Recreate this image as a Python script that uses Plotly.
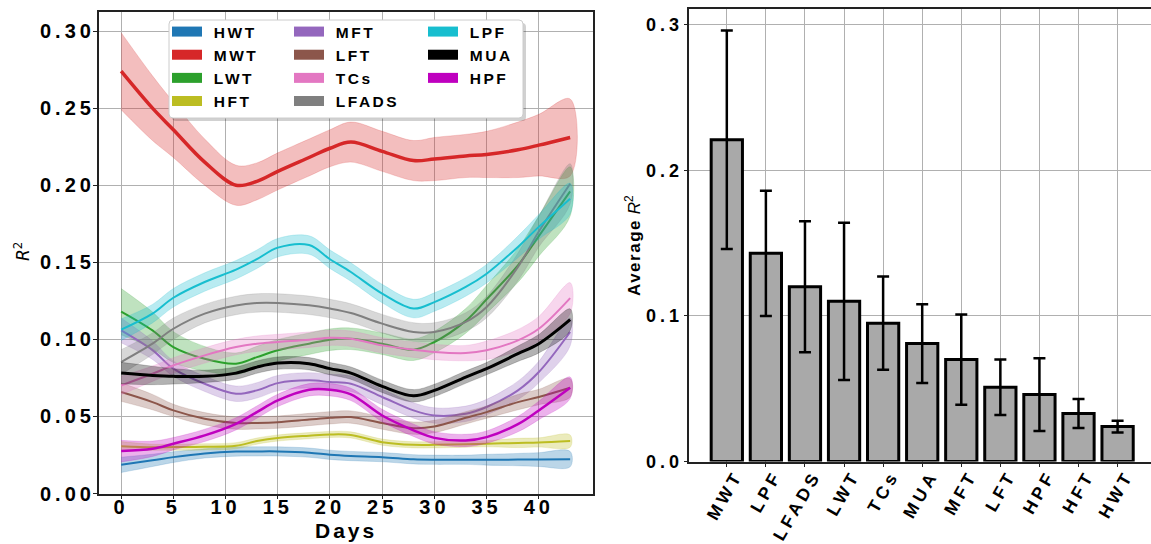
import plotly.graph_objects as go

# ---------------- data ----------------
days = [0, 3, 5, 8, 11, 13, 15, 18, 20, 22, 25, 28, 30, 33, 35, 38, 40, 43]

HWT = [0.0186, 0.0215, 0.0236, 0.026, 0.0272, 0.0273, 0.0273, 0.0265, 0.0251, 0.0243, 0.0236, 0.0222, 0.0219, 0.0219, 0.0219, 0.022, 0.022, 0.0223]
HWT_ci = [0.005, 0.004, 0.0035, 0.003, 0.003, 0.003, 0.003, 0.003, 0.003, 0.003, 0.003, 0.003, 0.003, 0.003, 0.0035, 0.004, 0.0045, 0.005]
MWT = [0.274, 0.250, 0.236, 0.215, 0.200, 0.2025, 0.209, 0.218, 0.224, 0.228, 0.222, 0.216, 0.217, 0.219, 0.220, 0.223, 0.226, 0.231]
MWT_ci = [0.025, 0.021, 0.018, 0.015, 0.013, 0.012, 0.012, 0.012, 0.012, 0.013, 0.013, 0.013, 0.014, 0.014, 0.015, 0.018, 0.020, 0.025]
LWT = [0.118, 0.1058, 0.095, 0.0874, 0.0842, 0.0885, 0.0929, 0.0972, 0.0998, 0.1004, 0.0972, 0.0933, 0.0983, 0.112, 0.126, 0.148, 0.167, 0.196]
LWT_ci = [0.015, 0.012, 0.010, 0.008, 0.007, 0.007, 0.007, 0.007, 0.007, 0.007, 0.007, 0.007, 0.007, 0.008, 0.009, 0.011, 0.013, 0.016]
HFT = [0.0307, 0.030, 0.0301, 0.0303, 0.031, 0.034, 0.036, 0.0375, 0.0383, 0.038, 0.0333, 0.0316, 0.0316, 0.032, 0.0323, 0.0328, 0.0331, 0.034]
HFT_ci = [0.003, 0.002, 0.002, 0.002, 0.002, 0.002, 0.002, 0.002, 0.002, 0.002, 0.002, 0.002, 0.002, 0.002, 0.002, 0.003, 0.003, 0.004]
MFT = [0.1058, 0.093, 0.081, 0.0712, 0.0647, 0.0669, 0.0716, 0.0734, 0.0723, 0.0712, 0.0626, 0.0539, 0.0506, 0.0517, 0.0561, 0.0669, 0.0788, 0.1048]
MFT_ci = [0.008, 0.006, 0.005, 0.005, 0.005, 0.005, 0.005, 0.005, 0.005, 0.005, 0.005, 0.005, 0.005, 0.005, 0.005, 0.006, 0.007, 0.009]
LFT = [0.0658, 0.0593, 0.0539, 0.0485, 0.0457, 0.0458, 0.0463, 0.048, 0.0491, 0.0496, 0.0457, 0.0424, 0.0435, 0.0491, 0.0528, 0.0593, 0.0626, 0.0686]
LFT_ci = [0.006, 0.005, 0.004, 0.004, 0.004, 0.004, 0.004, 0.004, 0.004, 0.004, 0.004, 0.004, 0.004, 0.004, 0.004, 0.005, 0.005, 0.006]
TCs = [0.0701, 0.0777, 0.0831, 0.0896, 0.095, 0.0972, 0.0983, 0.0998, 0.1011, 0.1004, 0.0961, 0.0933, 0.0918, 0.0911, 0.0929, 0.0994, 0.1069, 0.1268]
TCs_ci = [0.006, 0.005, 0.005, 0.005, 0.005, 0.005, 0.005, 0.005, 0.005, 0.005, 0.005, 0.005, 0.005, 0.005, 0.006, 0.007, 0.008, 0.010]
LFADS = [0.0853, 0.0972, 0.1069, 0.1167, 0.122, 0.1236, 0.1236, 0.1221, 0.120, 0.1171, 0.1102, 0.1048, 0.1048, 0.1113, 0.121, 0.147, 0.170, 0.201]
LFADS_ci = [0.008, 0.007, 0.007, 0.006, 0.006, 0.006, 0.006, 0.006, 0.006, 0.006, 0.006, 0.006, 0.006, 0.006, 0.007, 0.009, 0.010, 0.013]
LPF = [0.1063, 0.1167, 0.127, 0.1372, 0.1452, 0.152, 0.1595, 0.1612, 0.152, 0.1437, 0.1297, 0.120, 0.1242, 0.134, 0.1426, 0.160, 0.173, 0.1913]
LPF_ci = [0.007, 0.006, 0.006, 0.006, 0.006, 0.006, 0.006, 0.006, 0.006, 0.006, 0.006, 0.006, 0.006, 0.006, 0.006, 0.007, 0.008, 0.010]
MUA = [0.0781, 0.0766, 0.076, 0.076, 0.0781, 0.082, 0.0846, 0.0842, 0.081, 0.0781, 0.0695, 0.0634, 0.0669, 0.0755, 0.081, 0.0907, 0.0972, 0.1128]
MUA_ci = [0.007, 0.006, 0.005, 0.004, 0.004, 0.004, 0.004, 0.004, 0.004, 0.004, 0.004, 0.004, 0.004, 0.004, 0.004, 0.005, 0.006, 0.007]
HPF = [0.0275, 0.029, 0.0323, 0.0377, 0.0452, 0.0528, 0.0604, 0.0673, 0.0673, 0.0643, 0.0506, 0.041, 0.0361, 0.0344, 0.0366, 0.045, 0.0539, 0.0686]
HPF_ci = [0.007, 0.005, 0.004, 0.004, 0.004, 0.004, 0.004, 0.004, 0.004, 0.004, 0.004, 0.004, 0.004, 0.004, 0.004, 0.005, 0.006, 0.007]

series_names = ["HWT", "MWT", "LWT", "HFT", "MFT", "LFT", "TCs", "LFADS", "LPF", "MUA", "HPF"]
series_means = [HWT, MWT, LWT, HFT, MFT, LFT, TCs, LFADS, LPF, MUA, HPF]
series_cis = [HWT_ci, MWT_ci, LWT_ci, HFT_ci, MFT_ci, LFT_ci, TCs_ci, LFADS_ci, LPF_ci, MUA_ci, HPF_ci]
series_colors = ["#1f77b4", "#d62728", "#2ca02c", "#bcbd22", "#9467bd", "#8c564b",
                 "#e377c2", "#7f7f7f", "#17becf", "#000000", "#bf00bf"]
series_widths = [2, 3.5, 2, 2, 2, 2, 2, 2, 2, 3, 2.5]

bar_labels = ["MWT", "LPF", "LFADS", "LWT", "TCs", "MUA", "MFT", "LFT", "HPF", "HFT", "HWT"]
bar_values = [0.221, 0.143, 0.120, 0.110, 0.095, 0.081, 0.070, 0.051, 0.046, 0.033, 0.024]
bar_errors = [0.075, 0.043, 0.045, 0.054, 0.032, 0.027, 0.031, 0.019, 0.025, 0.010, 0.004]

left_xticks = [0, 5, 10, 15, 20, 25, 30, 35, 40]
left_yticks = [0.0, 0.05, 0.10, 0.15, 0.20, 0.25, 0.30]
right_yticks = [0.0, 0.1, 0.2, 0.3]

# legend columns (matplotlib ncol=3, filled column by column)
legend_columns = [["HWT", "MWT", "LWT", "HFT"],
                  ["MFT", "LFT", "TCs", "LFADS"],
                  ["LPF", "MUA", "HPF"]]

FONT = "Liberation Sans, Arial, sans-serif"
W, H = 1151, 544


def spaced(text, px):
    return f'<span style="letter-spacing:{px}px">{text}</span>'


def rgba(hexcol, a):
    h = hexcol.lstrip("#")
    r, g, b = int(h[0:2], 16), int(h[2:4], 16), int(h[4:6], 16)
    return f"rgba({r},{g},{b},{a})"


def px_x(p):
    return p / W


def px_y(p):
    return 1 - p / H


fig = go.Figure()

# ---------------- left panel: lines with bands ----------------
for name, mean, ci, col, lw in zip(series_names, series_means, series_cis, series_colors, series_widths):
    upper = [m + c for m, c in zip(mean, ci)]
    lower = [m - c for m, c in zip(mean, ci)]
    fig.add_trace(go.Scatter(
        x=days + days[::-1], y=upper + lower[::-1],
        fill="toself", fillcolor=rgba(col, 0.3),
        line=dict(width=0.6, color=rgba(col, 0.3), shape="spline"),
        mode="lines", hoverinfo="skip", showlegend=False,
        xaxis="x", yaxis="y"))
    fig.add_trace(go.Scatter(
        x=days, y=mean, mode="lines",
        line=dict(color=col, width=lw, shape="spline"),
        showlegend=False, name=name, xaxis="x", yaxis="y"))

# legend entries (coloured patches), one legend per column
legend_ids = ["legend", "legend2", "legend3"]
for lid, column in zip(legend_ids, legend_columns):
    for name in column:
        col = series_colors[series_names.index(name)]
        fig.add_trace(go.Scatter(
            x=[None], y=[None], mode="lines",
            line=dict(color=col, width=12),
            name=spaced("\u00a0" + name, 2.5), showlegend=True, legend=lid,
            xaxis="x", yaxis="y"))

# ---------------- right panel: bars ----------------
fig.add_trace(go.Bar(
    x=bar_labels, y=bar_values, width=0.8,
    marker=dict(color="#a9a9a9", line=dict(color="black", width=3)),
    error_y=dict(type="data", array=bar_errors, visible=True,
                 color="black", thickness=2.5, width=6),
    showlegend=False, xaxis="x2", yaxis="y2"))

axis_common = dict(showline=True, linecolor="#222222", linewidth=1.5, mirror=True,
                   showgrid=True, gridcolor="#b0b0b0", gridwidth=1.2,
                   ticks="outside", ticklen=4, tickwidth=1.2, tickcolor="#222222",
                   zeroline=False, automargin=False)

legend_common = dict(orientation="v", xanchor="left", yanchor="top",
                     bgcolor="rgba(0,0,0,0)", borderwidth=0,
                     font=dict(size=15.5, weight="bold", family=FONT),
                     tracegroupgap=0, itemwidth=30)

# legend frame (rounded box with a soft shadow)
bx0, by0, bx1, by1, rad = 169, 20, 523, 118, 4


def rounded_path(x0, y0, x1, y1, r):
    pts = [
        f"M {px_x(x0 + r)},{px_y(y0)}",
        f"L {px_x(x1 - r)},{px_y(y0)}",
        f"Q {px_x(x1)},{px_y(y0)} {px_x(x1)},{px_y(y0 + r)}",
        f"L {px_x(x1)},{px_y(y1 - r)}",
        f"Q {px_x(x1)},{px_y(y1)} {px_x(x1 - r)},{px_y(y1)}",
        f"L {px_x(x0 + r)},{px_y(y1)}",
        f"Q {px_x(x0)},{px_y(y1)} {px_x(x0)},{px_y(y1 - r)}",
        f"L {px_x(x0)},{px_y(y0 + r)}",
        f"Q {px_x(x0)},{px_y(y0)} {px_x(x0 + r)},{px_y(y0)}",
        "Z",
    ]
    return " ".join(pts)


shapes = [
    dict(type="path", xref="paper", yref="paper", layer="above",
         path=rounded_path(bx0 + 3, by0 + 3, bx1 + 3, by1 + 3, rad),
         fillcolor="rgba(0,0,0,0.18)", line=dict(width=0)),
    dict(type="path", xref="paper", yref="paper", layer="above",
         path=rounded_path(bx0, by0, bx1, by1, rad),
         fillcolor="white", line=dict(color="#cccccc", width=1)),
]

annotations = [
    dict(text=spaced("Days", 3), x=px_x(345.6), y=px_y(530), xref="paper", yref="paper",
         showarrow=False, xanchor="center", yanchor="middle",
         font=dict(size=21, weight="bold", family=FONT)),
    dict(text="<i>R</i><sup>2</sup>", x=px_x(22), y=px_y(252), xref="paper", yref="paper",
         showarrow=False, textangle=-90, xanchor="center", yanchor="middle",
         font=dict(size=17, family="DejaVu Sans")),
    dict(text="<b>" + spaced("Average", 1.5) + "</b> <i>R</i><sup>2</sup>",
         x=px_x(633), y=px_y(246), xref="paper", yref="paper",
         showarrow=False, textangle=-90, xanchor="center", yanchor="middle",
         font=dict(size=17, family=FONT)),
]

fig.update_layout(
    width=W, height=H,
    margin=dict(l=0, r=0, t=0, b=0),
    paper_bgcolor="white", plot_bgcolor="white",
    font=dict(family=FONT, color="black"),
    xaxis=dict(domain=[98.7 / W, 592.6 / W], range=[-2.15, 45.15],
               tickvals=left_xticks, ticktext=[spaced(str(v), 4) for v in left_xticks],
               tickfont=dict(size=20, weight="bold"), ticklabelstandoff=-9,
               anchor="y", **axis_common),
    yaxis=dict(domain=[(H - 493.5) / H, (H - 12) / H], range=[0, 0.3124],
               tickvals=left_yticks, ticktext=[spaced(f"{v:.2f}", 4) for v in left_yticks],
               tickfont=dict(size=20, weight="bold"), ticklabelstandoff=-6,
               anchor="x", **axis_common),
    xaxis2=dict(domain=[689.3 / W, 1.0], range=[-0.96, 10.855], type="category",
                tickangle=-60, tickfont=dict(size=17.5, weight="bold"),
                tickvals=bar_labels, ticktext=[spaced(t, 4) for t in bar_labels],
                ticklabelshift=9, ticklabelstandoff=-9,
                anchor="y2", **axis_common),
    yaxis2=dict(domain=[(H - 461.5) / H, (H - 9) / H], range=[0, 0.3108],
                tickvals=right_yticks, ticktext=[spaced(f"{v:.1f}", 4) for v in right_yticks],
                tickfont=dict(size=18, weight="bold"), ticklabelstandoff=-3,
                anchor="x2", **axis_common),
    legend=dict(x=px_x(167), y=px_y(15), **legend_common),
    legend2=dict(x=px_x(289), y=px_y(15), **legend_common),
    legend3=dict(x=px_x(423), y=px_y(15), **legend_common),
    shapes=shapes,
    annotations=annotations,
    showlegend=True,
)

fig.write_html("out.html")
